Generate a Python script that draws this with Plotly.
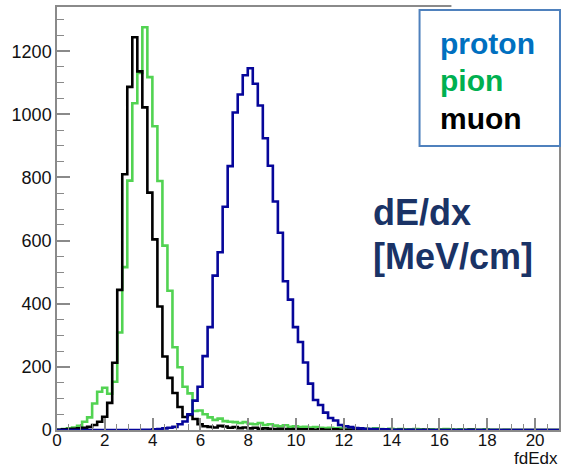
import numpy as np
import plotly.graph_objects as go

# fdEdx histograms: 100 bins spanning 0..21 MeV/cm
x_min, x_max, n_bins = 0.0, 21.0, 100

muon = [1, 2, 3, 4, 5, 7, 10, 16, 26, 42,
        86, 213, 444, 810, 1087, 1244, 1136, 1022, 752, 604,
        391, 233, 165, 117, 73, 41, 48, 35, 18, 12,
        10, 8, 13, 11, 7, 9, 6, 8, 5, 7,
        4, 5, 4, 3, 4, 3, 2, 3, 2, 2,
        2, 1, 2, 1, 1, 2, 1, 1, 1, 0,
        1, 1, 0, 1, 0, 1, 0, 0, 1, 0,
        0, 0, 0, 1, 0, 0, 0, 0, 0, 0,
        0, 0, 1, 0, 0, 0, 0, 0, 0, 0,
        0, 0, 0, 0, 0, 0, 0, 0, 0, 0]

pion = [1, 3, 5, 8, 13, 26, 40, 84, 121, 134,
        115, 153, 309, 516, 790, 1035, 1131, 1276, 1118, 962,
        789, 584, 441, 262, 199, 137, 116, 60, 62, 50,
        40, 32, 36, 28, 26, 25, 22, 25, 20, 18,
        22, 16, 18, 14, 12, 15, 10, 12, 9, 10,
        8, 9, 7, 6, 7, 5, 6, 4, 5, 4,
        3, 4, 3, 5, 3, 2, 4, 2, 3, 2,
        2, 3, 2, 1, 2, 1, 2, 3, 2, 1,
        2, 1, 2, 1, 1, 2, 1, 1, 0, 1,
        0, 0, 0, 0, 0, 0, 0, 0, 0, 0]

proton = [0, 0, 0, 0, 0, 0, 0, 0, 0, 0,
          0, 0, 0, 0, 0, 0, 0, 1, 1, 2,
          3, 5, 7, 10, 18, 27, 50, 93, 137, 234,
          326, 489, 563, 707, 836, 1006, 1063, 1124, 1146, 1097,
          1028, 924, 837, 724, 625, 471, 413, 326, 279, 214,
          147, 95, 79, 55, 38, 30, 16, 12, 9, 6,
          5, 4, 3, 3, 2, 2, 1, 1, 1, 0,
          1, 0, 0, 0, 0, 0, 0, 0, 0, 0,
          0, 0, 0, 0, 0, 0, 0, 0, 0, 0,
          0, 0, 0, 0, 0, 0, 0, 0, 0, 0]

y_max = 1340

edges = np.linspace(x_min, x_max, n_bins + 1)

W, H = 563, 469
ML, MR, MT, MB = 57, 2, 7, 39
PW, PH = W - ML - MR, H - MT - MB


def px(x):
    return (x - ML) / PW


def py(y):
    return (H - MB - y) / PH


fig = go.Figure()


def add_hist(values, color):
    yy = list(values) + [values[-1]]
    fig.add_trace(go.Scatter(
        x=edges, y=yy, mode="lines", line_shape="hv",
        line=dict(color=color, width=2.6), showlegend=False,
        hoverinfo="skip"))


add_hist(pion, "#52d352")
add_hist(muon, "#000000")
add_hist(proton, "#06069a")

axis_common = dict(
    showgrid=False, zeroline=False, showline=True, mirror=True,
    linecolor="#8a8a8a", linewidth=1.5,
    ticks="inside", tickcolor="#8a8a8a", tickwidth=1.5,
)
tick_font = dict(family="Liberation Sans, Arial, sans-serif", size=18, color="#111111")

fig.update_xaxes(
    range=[x_min, x_max], tick0=0, dtick=2, ticklen=12, ticklabelstandoff=-6,
    tickfont=dict(tick_font, size=17),
    minor=dict(dtick=0.5, ticklen=6, ticks="inside", tickcolor="#8a8a8a", tickwidth=1.2),
    **axis_common)
fig.update_yaxes(
    range=[0, y_max], tick0=0, dtick=200, ticklen=13, tickfont=tick_font,
    minor=dict(dtick=50, ticklen=7, ticks="inside", tickcolor="#8a8a8a", tickwidth=1.2),
    **axis_common)

shapes = [
    # white panel behind the species key
    dict(type="rect", xref="paper", yref="paper",
         x0=px(453), x1=px(565), y0=py(146), y1=py(-2),
         fillcolor="white", line=dict(width=0), layer="above"),
    dict(type="rect", xref="paper", yref="paper",
         x0=px(421), x1=px(562), y0=py(146), y1=py(10),
         fillcolor="white", line=dict(color="#4f81bd", width=2), layer="above"),
]

font_b = "Liberation Sans, Arial, sans-serif"
annotations = [
    dict(text="<b>proton</b>", x=px(440), y=py(43), font=dict(family=font_b, size=30, color="#0070c0")),
    dict(text="<b>pion</b>", x=px(440), y=py(80), font=dict(family=font_b, size=30, color="#00b050")),
    dict(text="<b>muon</b>", x=px(440), y=py(118), font=dict(family=font_b, size=30, color="#000000")),
    dict(text="<b>dE/dx</b>", x=px(372), y=py(212), font=dict(family=font_b, size=36, color="#1a3366")),
    dict(text="<b>[MeV/cm]</b>", x=px(372), y=py(256), font=dict(family=font_b, size=36, color="#1a3366")),
]
for a in annotations:
    a.update(xref="paper", yref="paper", xanchor="left", yanchor="middle", showarrow=False)

annotations.append(dict(
    text="fdEdx", xref="paper", yref="paper", x=px(561), y=py(469),
    xanchor="right", yanchor="bottom", showarrow=False, borderpad=0,
    font=dict(family=font_b, size=17, color="#111111")))

fig.update_layout(
    width=W, height=H,
    margin=dict(l=ML, r=MR, t=MT, b=MB),
    paper_bgcolor="white", plot_bgcolor="white",
    shapes=shapes, annotations=annotations,
)

fig.write_html("out.html")
